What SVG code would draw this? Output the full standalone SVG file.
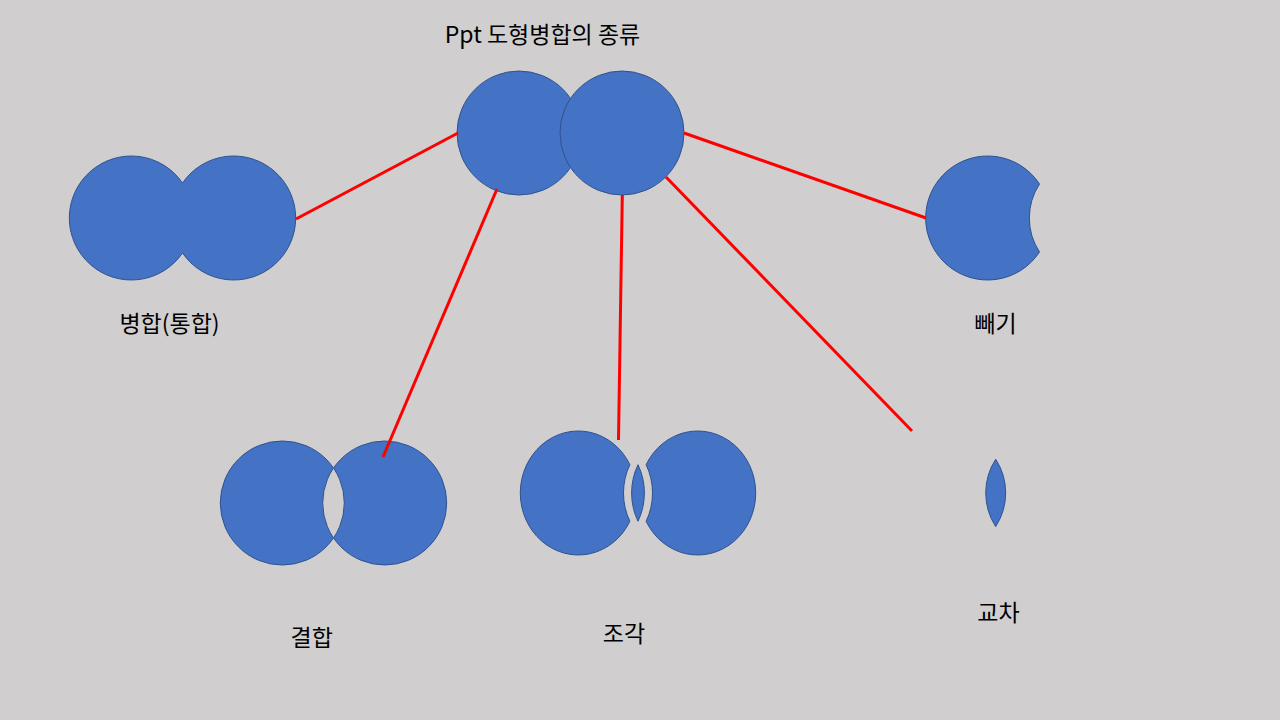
<svg xmlns="http://www.w3.org/2000/svg" width="1280" height="720" viewBox="0 0 1280 720">
<style>
.s{fill:#4472C4;stroke:#2F528F;stroke-width:1}
.t{font-family:"Noto Sans CJK KR","Noto Sans",sans-serif;font-size:23px;fill:#000;text-anchor:middle}
.c{stroke:#FF0000;stroke-width:3;fill:none}
</style>
<rect width="1280" height="720" fill="#D0CECE"/>
<g id="title"><text class="t" x="542.5" y="43">Ppt 도형병합의 종류</text></g>
<g id="source">
<circle class="s" cx="519" cy="133" r="62"/>
<circle class="s" cx="622" cy="133" r="62"/>
</g>
<g id="union">
<path class="s" d="M182.5 183 A62 62 0 1 0 182.5 253 A62 62 0 1 0 182.5 183 Z"/>
<text class="t" x="169.5" y="331.5">병합(통합)</text>
</g>
<g id="combine">
<path class="s" fill-rule="evenodd" d="M220.3 503 A62 62 0 1 0 344.3 503 A62 62 0 1 0 220.3 503 Z M322.7 503 A62 62 0 1 0 446.7 503 A62 62 0 1 0 322.7 503 Z"/>
<text class="t" x="311.7" y="646">결합</text>
</g>
<g id="fragment">
<path class="s" d="M629.9 464.7 A58 62 0 1 0 629.9 521.3 A58 62 0 0 1 629.9 464.7 Z"/>
<path class="s" d="M638 464.7 A58 62 0 0 1 638 521.3 A58 62 0 0 1 638 464.7 Z"/>
<path class="s" d="M646.1 464.7 A58 62 0 1 1 646.1 521.3 A58 62 0 0 0 646.1 464.7 Z"/>
<text class="t" x="624" y="641.5">조각</text>
</g>
<g id="subtract">
<path class="s" d="M1039.5 184 A62 62 0 1 0 1039.5 252 A62 62 0 0 1 1039.5 184 Z"/>
<text class="t" x="995.5" y="331.5">빼기</text>
</g>
<g id="intersect">
<path class="s" d="M995.7 459.2 A62 62 0 0 1 995.7 526.6 A62 62 0 0 1 995.7 459.2 Z"/>
<text class="t" x="998.5" y="621">교차</text>
</g>
<g id="connectors">
<line class="c" x1="458" y1="133" x2="296" y2="219"/>
<line class="c" x1="497" y1="189" x2="383" y2="457"/>
<line class="c" x1="622.3" y1="195" x2="618.5" y2="440"/>
<line class="c" x1="666" y1="177" x2="912" y2="431"/>
<line class="c" x1="684" y1="133" x2="926" y2="218"/>
</g>
</svg>
